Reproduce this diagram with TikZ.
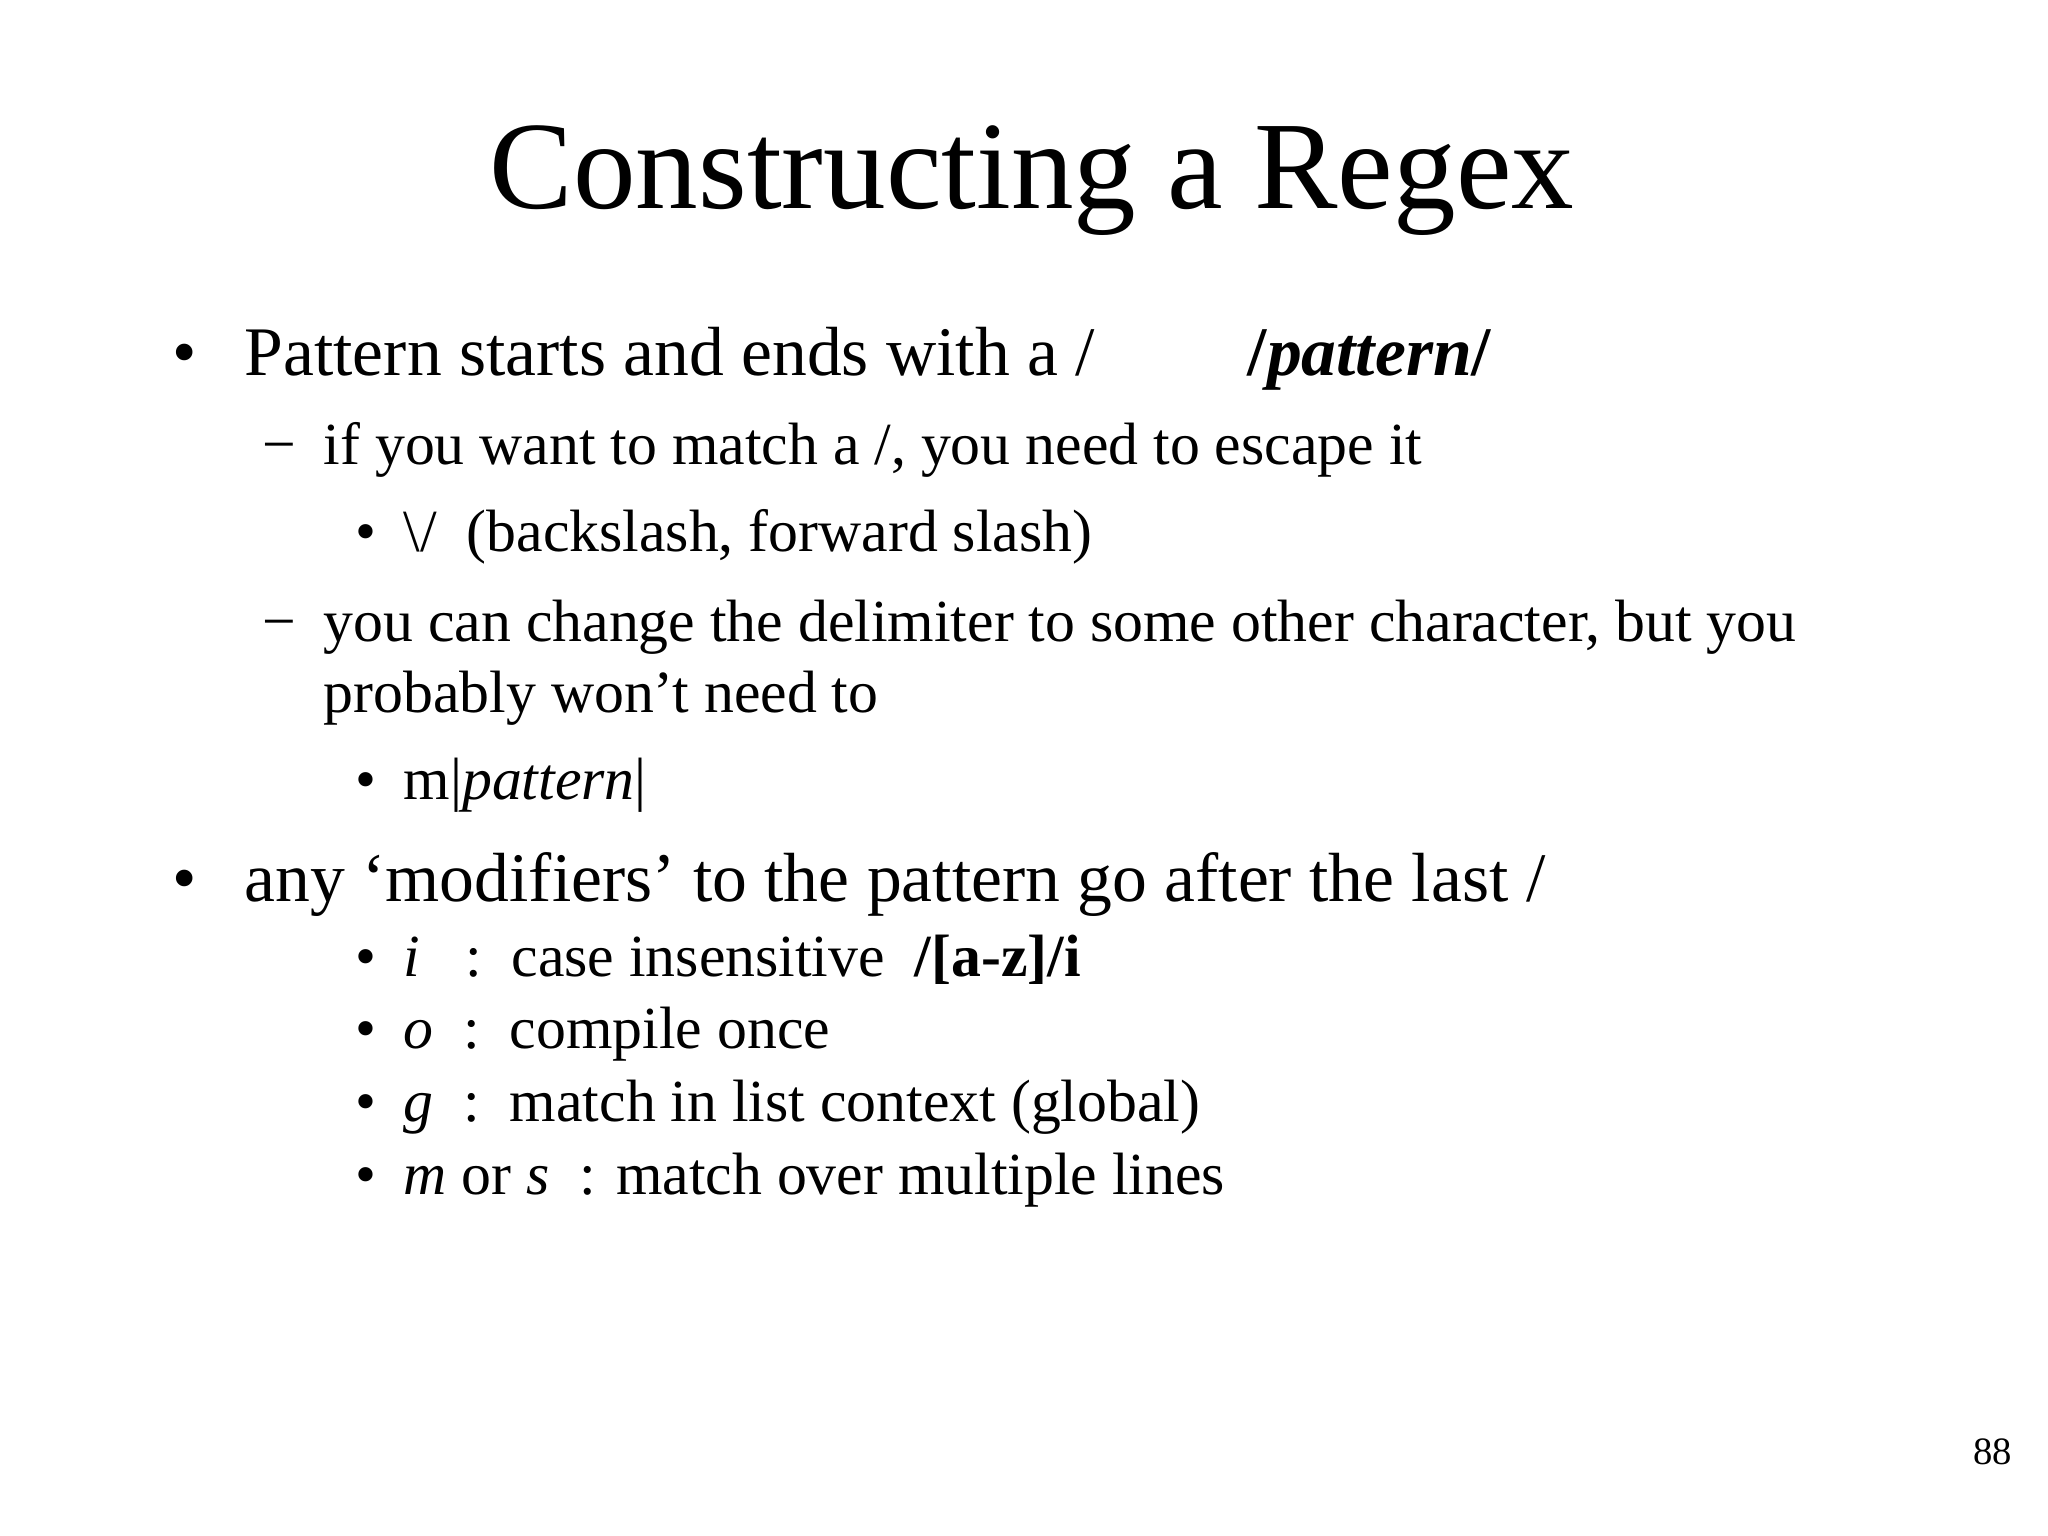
\documentclass[tikz,border=0pt]{standalone}
\usepackage{fontspec}
\setmainfont{Liberation Serif}
\begin{document}
\begin{tikzpicture}[x=1cm,y=1cm,
  t/.style={anchor=base west,inner sep=0pt},
  lone/.style={t,font=\fontsize{19.8}{24}\selectfont},
  ltwo/.style={t,font=\fontsize{17}{20}\selectfont}]
\useasboundingbox (0,0) rectangle (20.48,15.36);
\node[anchor=base,inner sep=0pt,font=\fontsize{35.6}{42}\selectfont] (title) at (10.32,13.27) {Constructing a Regex};
\node[lone] (b1) at (1.72,11.60) {\textbullet};
\node[lone] (t1) at (2.44,11.60) {Pattern starts and ends with a /};
\node[lone] (p1) at (12.47,11.60) {\textbf{/\textit{pattern}/}};
\node[ltwo] (d1) at (2.62,10.71) {−};
\node[ltwo] (t2) at (3.23,10.71) {if you want to match a /, you need to escape it};
\node[ltwo] (b3) at (3.55,9.84) {\textbullet};
\node[ltwo] (t3) at (4.03,9.84) {\textbackslash/\ \ (backslash, forward slash)};
\node[ltwo] (d2) at (2.62,8.94) {−};
\node[ltwo] (t4) at (3.23,8.94) {you can change the delimiter to some other character, but you};
\node[ltwo] (t4b) at (3.23,8.23) {probably won’t need to};
\node[ltwo] (b5) at (3.55,7.36) {\textbullet};
\node[ltwo] (t5) at (4.03,7.36) {m|\textit{pattern}|};
\node[lone] (b2) at (1.72,6.34) {\textbullet};
\node[lone] (t6) at (2.44,6.34) {any ‘modifiers’ to the pattern go after the last /};
\node[ltwo] (b7) at (3.55,5.59) {\textbullet};
\node[ltwo] (t7) at (4.03,5.59) {\textit{i}\ \ \ :\ \ case insensitive\ \ \textbf{/[a-z]/i}};
\node[ltwo] (b8) at (3.55,4.87) {\textbullet};
\node[ltwo] (t8) at (4.03,4.87) {\textit{o}\ \ :\ \ compile once};
\node[ltwo] (b9) at (3.55,4.14) {\textbullet};
\node[ltwo] (t9) at (4.03,4.14) {\textit{g}\ \ :\ \ match in list context (global)};
\node[ltwo] (b10) at (3.55,3.41) {\textbullet};
\node[ltwo] (t10) at (4.03,3.41) {\textit{m} or \textit{s}\ \ : match over multiple lines};
\node[anchor=base east,inner sep=0pt,font=\fontsize{11}{13}\selectfont] (pg) at (20.13,0.71) {88};
\end{tikzpicture}
\end{document}
